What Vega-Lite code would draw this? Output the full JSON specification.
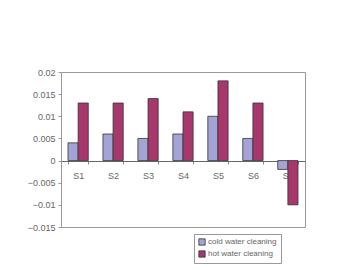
{
  "$schema": "https://vega.github.io/schema/vega-lite/v6.json",
  "width": 244,
  "height": 155,
  "autosize": {"type": "none"},
  "padding": {"left": 61, "top": 72, "right": 33, "bottom": 43},
  "background": "white",
  "config": {
    "view": {"stroke": "#999999", "strokeWidth": 1},
    "font": "Liberation Sans"
  },
  "data": {
    "values": [
      {"site": "S1", "series": "cold water cleaning", "value": 0.004},
      {"site": "S1", "series": "hot water cleaning", "value": 0.013},
      {"site": "S2", "series": "cold water cleaning", "value": 0.006},
      {"site": "S2", "series": "hot water cleaning", "value": 0.013},
      {"site": "S3", "series": "cold water cleaning", "value": 0.005},
      {"site": "S3", "series": "hot water cleaning", "value": 0.014},
      {"site": "S4", "series": "cold water cleaning", "value": 0.006},
      {"site": "S4", "series": "hot water cleaning", "value": 0.011},
      {"site": "S5", "series": "cold water cleaning", "value": 0.010},
      {"site": "S5", "series": "hot water cleaning", "value": 0.018},
      {"site": "S6", "series": "cold water cleaning", "value": 0.005},
      {"site": "S6", "series": "hot water cleaning", "value": 0.013},
      {"site": "S7", "series": "cold water cleaning", "value": -0.002},
      {"site": "S7", "series": "hot water cleaning", "value": -0.010}
    ]
  },
  "mark": {"type": "bar", "stroke": "#333333", "strokeWidth": 0.8},
  "encoding": {
    "x": {
      "field": "site", "type": "nominal", "sort": null,
      "scale": {"paddingInner": 0.42, "paddingOuter": 0.2},
      "axis": {
        "title": null, "offset": -66, "labelAngle": 0,
        "domainColor": "#666666", "tickColor": "#888888", "tickSize": 3,
        "tickBand": "extent", "labelFontSize": 9, "labelColor": "#666666",
        "labelPadding": 7
      }
    },
    "xOffset": {"field": "series", "type": "nominal"},
    "y": {
      "field": "value", "type": "quantitative",
      "scale": {"domain": [-0.015, 0.02], "nice": false, "zero": false},
      "axis": {
        "title": null, "values": [-0.015, -0.01, -0.005, 0, 0.005, 0.01, 0.015, 0.02],
        "format": ".3~f", "grid": false, "domainColor": "#999999",
        "tickColor": "#999999", "tickSize": 3, "labelFontSize": 9,
        "labelColor": "#666666", "labelPadding": 3
      }
    },
    "color": {
      "field": "series", "type": "nominal",
      "scale": {"range": ["#a3a3d6", "#a8386c"]},
      "legend": {
        "title": null, "orient": "none", "legendX": 133, "legendY": 162,
        "strokeColor": "#999999", "padding": 4, "symbolType": "square",
        "symbolSize": 40, "symbolStrokeColor": "#333333", "symbolStrokeWidth": 0.8,
        "labelFontSize": 8, "labelColor": "#666666", "rowPadding": 2,
        "symbolOffset": 0, "labelOffset": 2
      }
    }
  }
}
